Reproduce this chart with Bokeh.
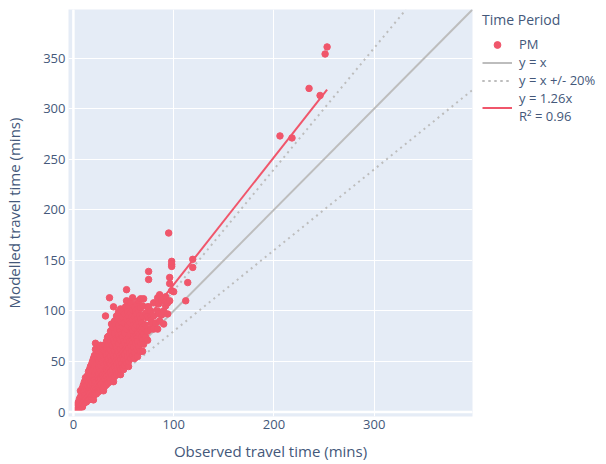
from bokeh.plotting import figure
from bokeh.models import Legend, LegendItem, Span, FixedTicker, Range1d
from bokeh.embed import file_html
from bokeh.resources import INLINE

# --- data ---
obs = [4, 4, 5, 5, 6, 6, 6,
       7, 7, 7, 7, 8, 8, 8,
       9, 9, 9, 9, 9, 10, 10, 10, 10,
       11, 11, 11, 11, 11, 12, 12, 12, 12,
       13, 13, 13, 13, 13, 13, 14, 14, 14, 14,
       15, 15, 15, 15, 15, 16, 16, 16, 16, 16,
       17, 17, 17, 17, 17, 17, 17, 18, 18, 18, 18,
       19, 19, 19, 19, 19, 19, 19, 20, 20, 20, 20, 20, 20,
       21, 21, 21, 21, 21, 21, 21, 22, 22, 22, 22, 22,
       23, 23, 23, 23, 23, 23, 23, 24, 24, 24, 24,
       25, 25, 25, 25, 25, 25, 25, 26, 26, 26, 26, 26,
       27, 27, 27, 27, 27, 27, 27, 27, 28, 28, 28, 28,
       29, 29, 29, 29, 29, 29, 29, 30, 30, 30, 30, 30, 30,
       31, 31, 31, 31, 31, 31, 31, 32, 32, 32, 32,
       33, 33, 33, 33, 33, 33, 33, 34, 34, 34, 34, 34,
       35, 35, 35, 35, 35, 35, 35, 36, 36, 36, 36,
       37, 37, 37, 37, 37, 37, 37, 38, 38, 38, 38,
       39, 39, 39, 39, 39, 39, 39, 40, 40, 40, 40, 40,
       41, 41, 41, 41, 41, 41, 41, 42, 42, 42, 42,
       43, 43, 43, 43, 43, 43, 43, 44, 44, 44, 44,
       45, 45, 45, 45, 45, 45, 45, 46, 46, 46, 46,
       47, 47, 47, 47, 47, 47, 47, 47, 48, 48, 48, 48,
       49, 49, 49, 49, 49, 49, 49, 50, 50, 50, 50,
       51, 51, 51, 51, 51, 51, 52, 52, 52, 52,
       53, 53, 53, 53, 53, 53, 53, 54, 54, 54, 54,
       55, 55, 55, 55, 55, 55, 55, 56, 56, 56,
       57, 57, 57, 57, 57, 57, 58, 58, 58,
       59, 59, 59, 59, 59, 59, 60, 60, 60,
       61, 61, 61, 61, 61, 61, 62, 62, 62,
       63, 63, 63, 63, 63, 64, 64, 64, 64,
       65, 65, 65, 65, 65, 66, 66, 66,
       67, 67, 67, 67, 67, 67, 68, 68,
       69, 69, 69, 69, 69, 70, 70, 70,
       72, 72, 72, 73, 73,
       74, 74, 74, 74, 75, 75, 75,
       77, 77, 77, 78, 80, 80, 80,
       82, 84, 84, 84, 85, 85, 86, 86,
       88, 88, 90, 90, 92, 92, 94, 94,
       95, 96, 96, 96, 98, 98, 98, 98, 100,
       112, 114, 119, 119,
       206, 218, 235, 246, 251, 253]

mod = [3, 8, 5, 10, 4, 7, 13,
       5, 9, 15, 21, 6, 11, 18,
       5, 8, 12, 16, 24, 8, 11, 20, 27,
       9, 13, 17, 22, 30, 10, 15, 25, 34,
       10, 14, 19, 23, 28, 32, 12, 17, 26, 36,
       12, 16, 21, 30, 40, 13, 19, 24, 34, 42,
       13, 18, 22, 27, 32, 38, 45, 15, 21, 30, 47,
       15, 20, 25, 29, 35, 41, 50, 12, 17, 23, 33, 44, 53,
       17, 22, 27, 32, 38, 45, 56, 19, 30, 40, 62, 68,
       18, 24, 30, 36, 42, 48, 58, 21, 34, 52, 61,
       20, 26, 32, 38, 45, 51, 60, 23, 29, 42, 55, 64,
       22, 28, 34, 40, 47, 54, 62, 66, 25, 36, 50, 58,
       23, 30, 37, 43, 50, 57, 64, 21, 26, 33, 46, 54, 61,
       25, 33, 39, 46, 53, 60, 66, 28, 42, 57, 95,
       27, 35, 42, 49, 56, 63, 70, 31, 45, 52, 66, 74,
       29, 37, 44, 52, 59, 67, 75, 33, 48, 62, 113,
       31, 39, 47, 55, 62, 70, 80, 36, 51, 66, 87,
       33, 42, 50, 58, 66, 74, 84, 30, 46, 55, 71, 104,
       35, 45, 53, 61, 69, 78, 90, 40, 50, 65, 86,
       37, 47, 56, 64, 73, 82, 95, 43, 60, 76, 92,
       39, 50, 59, 68, 77, 86, 99, 45, 55, 72, 82,
       37, 42, 52, 62, 71, 80, 90, 102, 48, 58, 77, 96,
       44, 55, 65, 74, 84, 94, 100, 42, 52, 70, 88,
       46, 57, 68, 78, 88, 97, 50, 62, 82, 104,
       48, 60, 71, 82, 92, 110, 121, 55, 66, 86, 99,
       45, 50, 63, 74, 85, 95, 105, 58, 70, 90,
       53, 66, 77, 88, 98, 108, 60, 82, 94,
       56, 69, 80, 91, 101, 113, 64, 75, 86,
       53, 59, 72, 83, 94, 104, 68, 90, 100,
       62, 75, 86, 97, 107, 55, 70, 80, 92,
       65, 78, 89, 100, 110, 60, 84, 95,
       60, 68, 81, 92, 103, 112, 74, 88,
       60, 71, 84, 95, 105, 67, 77, 112,
       74, 86, 98, 80, 94,
       71, 80, 94, 104, 104, 131, 139,
       82, 92, 100, 88, 82, 95, 108,
       88, 82, 100, 113, 97, 107, 90, 116,
       96, 110, 87, 100, 105, 114, 97, 108,
       177, 110, 127, 133, 120, 144, 146, 149, 119,
       110, 128, 143, 151,
       273, 271, 320, 313, 354, 361]

fit_slope = 1.26
fit_r2 = 0.96
band = 0.20
axis_max = 398
x_ticks = [0, 100, 200, 300]
y_ticks = [0, 50, 100, 150, 200, 250, 300, 350]

PM_COLOR = "#F0566B"
REF_COLOR = "#BDBDBD"
TEXT = "#44587a"
FONT = "Open Sans"

p = figure(frame_width=404, frame_height=407, output_backend="svg",
           toolbar_location=None,
           x_range=Range1d(-4.9, axis_max), y_range=Range1d(-4.4, axis_max),
           min_border_left=68, min_border_right=0, min_border_top=9,
           min_border_bottom=48)
p.background_fill_color = "#E5ECF6"
p.border_fill_color = "white"
p.outline_line_color = None

for g in (p.xgrid[0], p.ygrid[0]):
    g.grid_line_color = "white"
    g.grid_line_width = 1
p.xgrid[0].ticker = FixedTicker(ticks=x_ticks)
p.ygrid[0].ticker = FixedTicker(ticks=y_ticks)
p.add_layout(Span(location=0, dimension="height", line_color="white", line_width=2.5))
p.add_layout(Span(location=0, dimension="width", line_color="white", line_width=2.5))

# reference lines
ident = p.line([0, axis_max], [0, axis_max], line_color=REF_COLOR, line_width=2)
up = p.line([0, axis_max / (1 + band)], [0, axis_max], line_color=REF_COLOR,
            line_width=2, line_dash="2 4")
lo = p.line([0, axis_max], [0, axis_max * (1 - band)], line_color=REF_COLOR,
            line_width=2, line_dash="2 4")

pts = p.scatter(obs, mod, size=6.5, color=PM_COLOR, line_color=PM_COLOR)

xmin, xmax = min(obs), max(obs)
fit = p.line([xmin, xmax], [fit_slope * xmin, fit_slope * xmax],
             line_color=PM_COLOR, line_width=2)

for ax, ticks in ((p.xaxis[0], x_ticks), (p.yaxis[0], y_ticks)):
    ax.ticker = FixedTicker(ticks=ticks)
    ax.axis_line_color = None
    ax.major_tick_line_color = None
    ax.minor_tick_line_color = None
    ax.major_tick_out = 0
    ax.major_label_text_font = FONT
    ax.major_label_text_font_size = "13px"
    ax.major_label_text_color = TEXT
    ax.axis_label_text_font = FONT
    ax.axis_label_text_font_size = "15px"
    ax.axis_label_text_font_style = "normal"
    ax.axis_label_text_color = TEXT

p.xaxis[0].axis_label = "Observed travel time (mins)"
p.yaxis[0].axis_label = "Modelled travel time (mins)"
p.xaxis[0].major_label_standoff = 3
p.yaxis[0].major_label_standoff = 3
p.xaxis[0].axis_label_standoff = 9
p.yaxis[0].axis_label_standoff = 16

legend = Legend(items=[
    LegendItem(label="PM", renderers=[pts]),
    LegendItem(label="y = x", renderers=[ident]),
    LegendItem(label="y = x +/- 20%", renderers=[up, lo]),
    LegendItem(label=f"y = {fit_slope}x\nR\u00b2 = {fit_r2}", renderers=[fit]),
], location=(10, 291), title="Time Period")
legend.title_text_font = FONT
legend.title_text_font_size = "14px"
legend.title_text_font_style = "normal"
legend.title_text_color = TEXT
legend.title_standoff = 6
legend.label_text_font = FONT
legend.label_text_font_size = "13px"
legend.label_text_color = TEXT
legend.label_height = 17
legend.glyph_height = 17
legend.glyph_width = 30
legend.label_standoff = 7
legend.spacing = 0
legend.padding = 0
legend.margin = 0
legend.border_line_color = None
legend.background_fill_alpha = 0
p.add_layout(legend, "right")

open("out.html", "w").write(file_html(p, INLINE))
